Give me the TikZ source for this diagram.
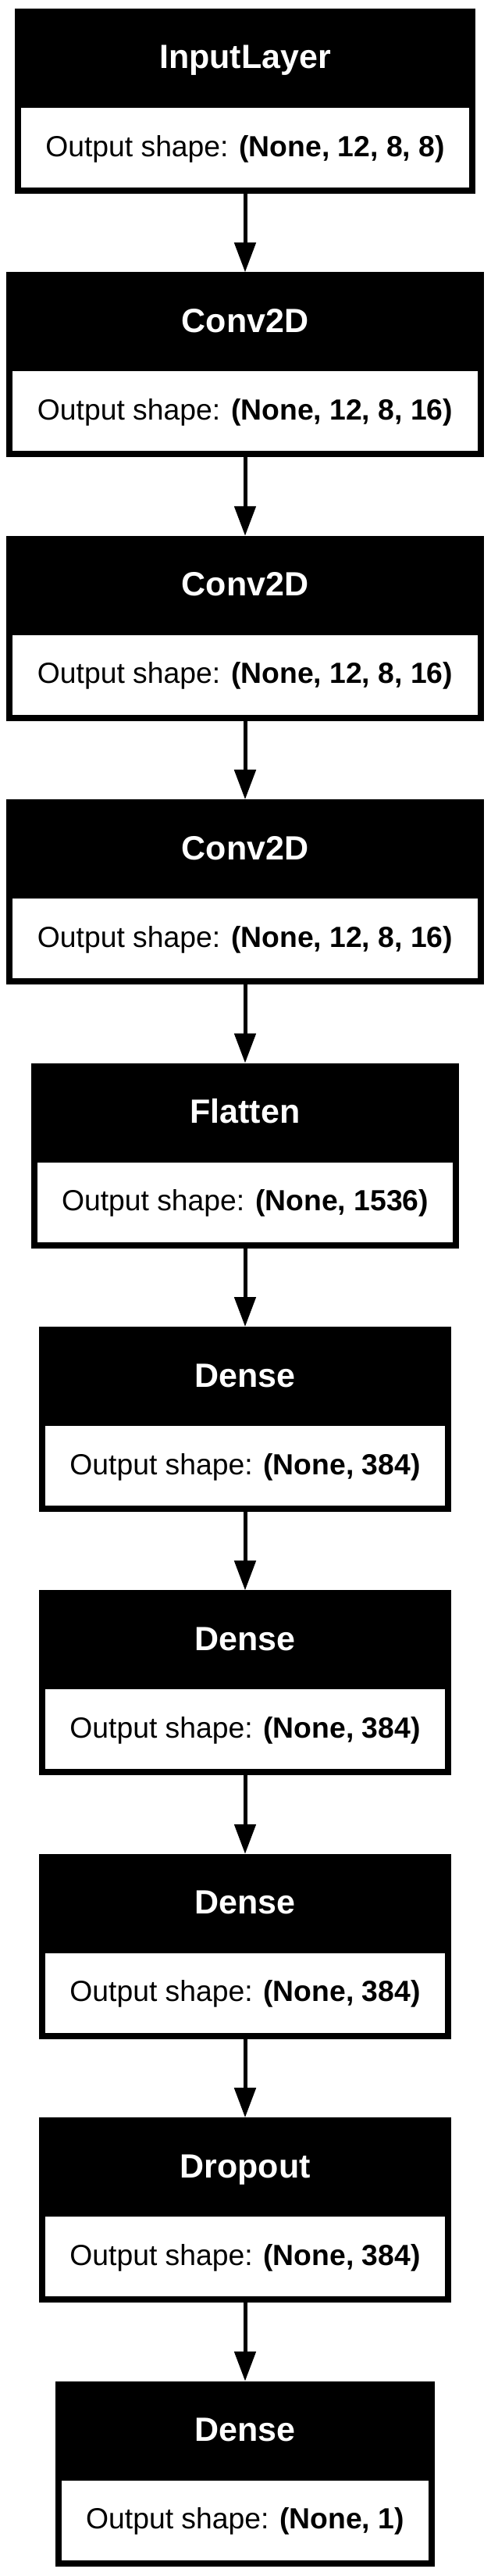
\documentclass[tikz,border=0pt]{standalone}
\usepackage{fontspec}
\setmainfont{Liberation Sans}
\usepackage{tikz}
\usetikzlibrary{positioning, arrows.meta, shapes.multipart}

\newcommand{\layername}[1]{\rule[-21pt]{0pt}{55.5pt}{\fontsize{21.5pt}{24pt}\selectfont\bfseries\color{white}#1}}
\newcommand{\outshape}[1]{\rule[-20pt]{0pt}{51pt}Output shape: \textbf{#1}}

\begin{document}
\begin{tikzpicture}[node distance=50.2pt, layer/.style={rectangle split, rectangle split parts=2, rectangle split part fill={black,white}, draw, line width=4pt, outer sep=2pt, inner xsep=17.75pt, inner ysep=0pt, font=\fontsize{18.65pt}{22pt}\selectfont}, flow/.style={-{Triangle[length=19pt, width=13.5pt]}, line width=2.5pt}]
\useasboundingbox (0,0) rectangle (314pt,-1648.5pt);
\node (in) [layer, anchor=north] at (157pt,-5.5pt) {\layername{InputLayer}\nodepart{two}\outshape{(None, 12, 8, 8)}};
\node (conva) [layer, below=of in] {\layername{Conv2D}\nodepart{two}\outshape{(None, 12, 8, 16)}};
\node (convb) [layer, below=of conva] {\layername{Conv2D}\nodepart{two}\outshape{(None, 12, 8, 16)}};
\node (convc) [layer, below=of convb] {\layername{Conv2D}\nodepart{two}\outshape{(None, 12, 8, 16)}};
\node (flat) [layer, below=of convc] {\layername{Flatten}\nodepart{two}\outshape{(None, 1536)}};
\node (densea) [layer, below=of flat] {\layername{Dense}\nodepart{two}\outshape{(None, 384)}};
\node (denseb) [layer, below=of densea] {\layername{Dense}\nodepart{two}\outshape{(None, 384)}};
\node (densec) [layer, below=of denseb] {\layername{Dense}\nodepart{two}\outshape{(None, 384)}};
\node (drop) [layer, below=of densec] {\layername{Dropout}\nodepart{two}\outshape{(None, 384)}};
\node (out) [layer, below=of drop] {\layername{Dense}\nodepart{two}\outshape{(None, 1)}};
\draw[flow] (in) -- (conva);
\draw[flow] (conva) -- (convb);
\draw[flow] (convb) -- (convc);
\draw[flow] (convc) -- (flat);
\draw[flow] (flat) -- (densea);
\draw[flow] (densea) -- (denseb);
\draw[flow] (denseb) -- (densec);
\draw[flow] (densec) -- (drop);
\draw[flow] (drop) -- (out);
\end{tikzpicture}
\end{document}
